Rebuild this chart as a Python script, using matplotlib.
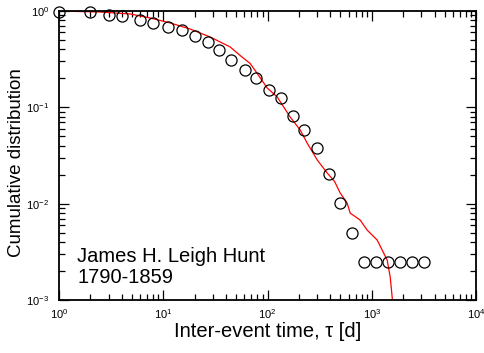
import matplotlib
matplotlib.use('Agg')
import matplotlib.pyplot as plt
import numpy as np

plt.rcParams['font.family'] = ['Liberation Sans', 'DejaVu Sans']
plt.rcParams['mathtext.default'] = 'regular'

# binned data (open circles)
tau_pts = [1, 2, 3, 4, 6, 8, 11, 15, 20, 26.7, 34, 45, 60.5, 77, 103, 134, 175,
           223, 298, 388, 495, 645, 841, 1098, 1432, 1870, 2438, 3178]
cdf_pts = [0.98, 0.98, 0.91, 0.89, 0.81, 0.75, 0.68, 0.635, 0.55, 0.48, 0.39,
           0.31, 0.244, 0.20, 0.151, 0.125, 0.081, 0.058, 0.0378, 0.0203,
           0.0101, 0.00495, 0.00248, 0.00248, 0.00248, 0.00248, 0.00248, 0.00248]

# empirical curve (red line)
tau_line = [1, 2.49, 4.83, 7.5, 11.7, 18.1, 28.2, 43.9, 54.7, 68.2, 79.6, 99.3,
            124, 165, 206, 240, 300, 374, 440, 498, 581, 621, 774, 903, 1127,
            1259, 1406, 1503, 1570, 1590]
cdf_line = [1.0, 0.976, 0.931, 0.846, 0.751, 0.650, 0.537, 0.423, 0.345, 0.285,
            0.225, 0.159, 0.128, 0.0793, 0.0581, 0.0426, 0.0284, 0.0208, 0.0170,
            0.0129, 0.01014, 0.00798, 0.00676, 0.00532, 0.00419, 0.00330,
            0.00259, 0.00173, 0.00107, 0.0009]

fig = plt.figure(figsize=(4.85, 3.53), dpi=100)
ax = fig.add_axes([59 / 485, 53 / 353, 417 / 485, 289 / 353])

ax.plot(tau_line, cdf_line, color='red', lw=0.9, zorder=2)
ax.plot(tau_pts, cdf_pts, 'o', mfc='none', mec='black', ms=8, mew=0.9, zorder=3,
        clip_on=False)

ax.set_xscale('log')
ax.set_yscale('log')
ax.set_xlim(1, 1e4)
ax.set_ylim(1e-3, 1)

ax.tick_params(which='both', direction='in', top=True, right=True, width=0.9,
               labelsize=8)
ax.tick_params(which='major', length=7)
ax.tick_params(which='minor', length=4)
ax.tick_params(axis='x', pad=5)
ax.tick_params(axis='y', pad=7)
for s in ax.spines.values():
    s.set_linewidth(1.3)

ax.set_xlabel('Inter-event time, τ [d]', fontsize=14.5, labelpad=1)
ax.set_ylabel('Cumulative distribution', fontsize=13.5)
ax.yaxis.set_label_coords(-0.082, 0.477)

ax.text(1.5, 0.00248, 'James H. Leigh Hunt', fontsize=14.5, va='baseline')
ax.text(1.5, 0.0015, '1790-1859', fontsize=14.5, va='baseline')

fig.savefig('out.png', dpi=100)
